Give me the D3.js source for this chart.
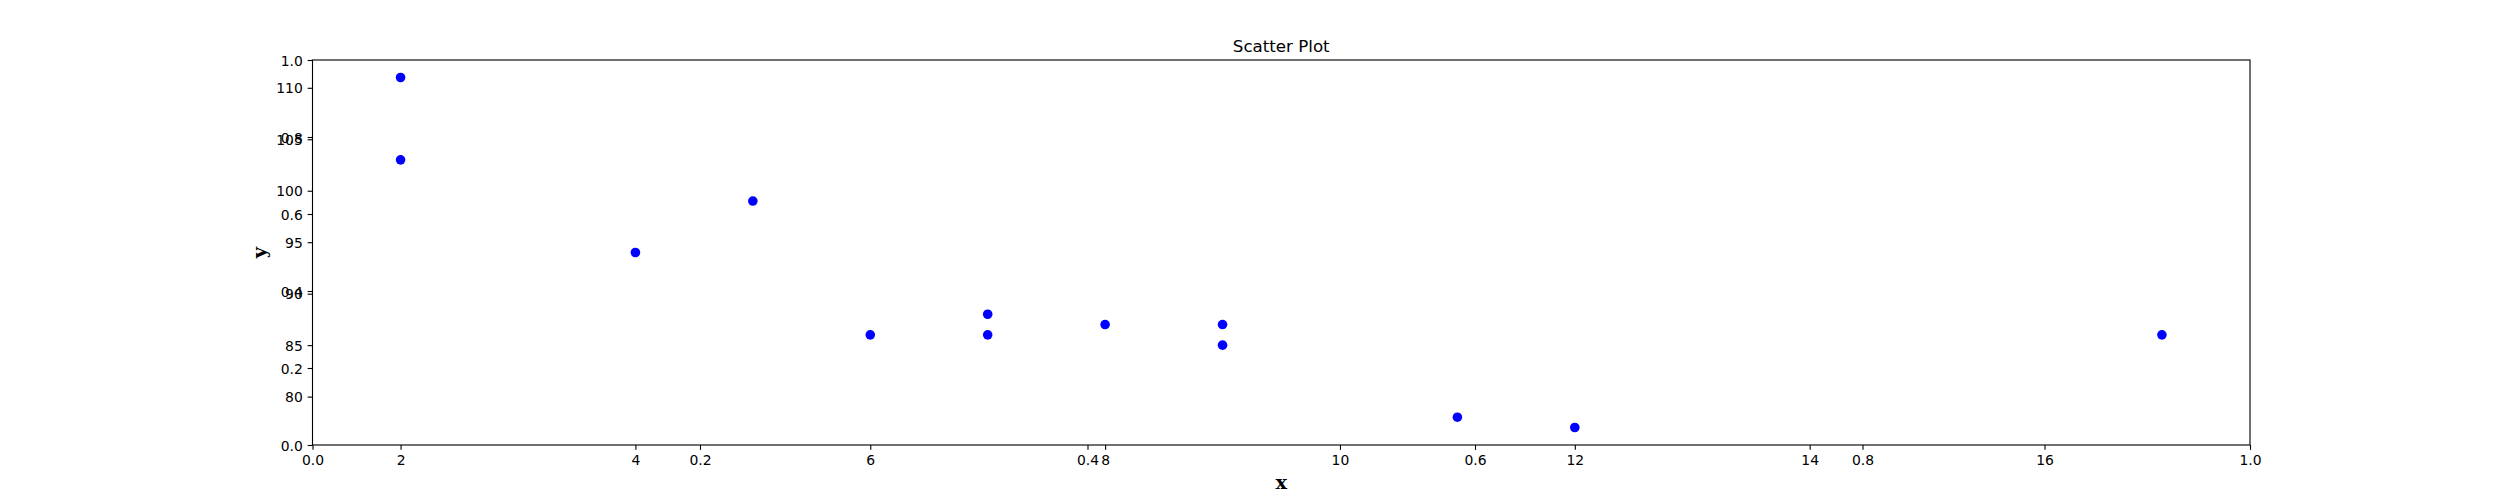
<!DOCTYPE html>
<html>
<head>
<meta charset="utf-8">
<script src="https://cdn.jsdelivr.net/npm/d3@7"></script>
<style>
  html, body { margin: 0; padding: 0; background: #fff; }
  svg { display: block; }
</style>
</head>
<body>
<svg id="chart" width="2500" height="500"></svg>
<script>
const xValues = [5, 7, 8, 7, 2, 17, 2, 9, 4, 11, 12, 9, 6];
const yValues = [99, 86, 87, 88, 111, 86, 103, 87, 94, 78, 77, 85, 86];
const xTickValues = [2, 4, 6, 8, 10, 12, 14, 16];
const yTickValues = [80, 85, 90, 95, 100, 105, 110];
const unitTickValues = [0, 0.2, 0.4, 0.6, 0.8, 1.0];
const titleText = "Scatter Plot";
const xLabelText = "x";
const yLabelText = "y";

const W = 2500, H = 500;
const L = 312.5, R = 2250, T = 60, B = 445;
const svg = d3.select("#chart");

function padded(vals) {
  const [a, b] = d3.extent(vals);
  const m = (b - a) * 0.05;
  return [a - m, b + m];
}
const x = d3.scaleLinear().domain(padded(xValues)).range([L, R]);
const y = d3.scaleLinear().domain(padded(yValues)).range([B, T]);
const ux = d3.scaleLinear().domain([0, 1]).range([L, R]);
const uy = d3.scaleLinear().domain([0, 1]).range([B, T]);

const tickLen = 4.86, tickPad = 4.86;
const fontSans = "DejaVu Sans, sans-serif";
const fontSerif = "DejaVu Serif, serif";

function xAxis(scale, ticks, fmt) {
  const g = svg.append("g").attr("transform", `translate(0,${B})`);
  const axis = d3.axisBottom(scale).tickValues(ticks).tickFormat(fmt)
    .tickSize(tickLen).tickPadding(tickPad).tickSizeOuter(0);
  g.call(axis);
  g.select(".domain").remove();
  g.selectAll(".tick line").attr("stroke", "#000").attr("stroke-width", 1.11);
  g.selectAll(".tick text").attr("font-family", fontSans).attr("font-size", 13.9)
    .attr("fill", "#000").attr("dy", null).attr("y", tickLen + tickPad + 10.6);
}
function yAxis(scale, ticks, fmt) {
  const g = svg.append("g").attr("transform", `translate(${L},0)`);
  const axis = d3.axisLeft(scale).tickValues(ticks).tickFormat(fmt)
    .tickSize(tickLen).tickPadding(tickPad).tickSizeOuter(0);
  g.call(axis);
  g.select(".domain").remove();
  g.selectAll(".tick line").attr("stroke", "#000").attr("stroke-width", 1.11);
  g.selectAll(".tick text").attr("font-family", fontSans).attr("font-size", 13.9)
    .attr("fill", "#000").attr("dy", null).attr("y", 5);
}

xAxis(ux, unitTickValues, d3.format(".1f"));
yAxis(uy, unitTickValues, d3.format(".1f"));
xAxis(x, xTickValues, d3.format("d"));
yAxis(y, yTickValues, d3.format("d"));

// frame
svg.append("rect").attr("x", L).attr("y", T).attr("width", R - L).attr("height", B - T)
  .attr("fill", "none").attr("stroke", "#000").attr("stroke-width", 1.11);

// points
svg.append("g").selectAll("circle").data(xValues.map((v, i) => [v, yValues[i]]))
  .join("circle")
  .attr("cx", d => x(d[0])).attr("cy", d => y(d[1])).attr("r", 4.8)
  .attr("fill", "#0000ff");

// title
svg.append("text").attr("x", (L + R) / 2).attr("y", T - 8.3)
  .attr("text-anchor", "middle").attr("font-family", fontSans).attr("font-size", 16.67)
  .attr("fill", "#000").text(titleText);

// x label
svg.append("text").attr("x", (L + R) / 2).attr("y", 488.5)
  .attr("text-anchor", "middle").attr("font-family", fontSerif).attr("font-weight", "bold")
  .attr("font-size", 19.44).attr("fill", "#000").text(xLabelText);

// y label
svg.append("text").attr("transform", `translate(266.4,${(T + B) / 2}) rotate(-90)`)
  .attr("text-anchor", "middle").attr("font-family", fontSerif).attr("font-weight", "bold")
  .attr("font-size", 19.44).attr("fill", "#000").text(yLabelText);
</script>
</body>
</html>
